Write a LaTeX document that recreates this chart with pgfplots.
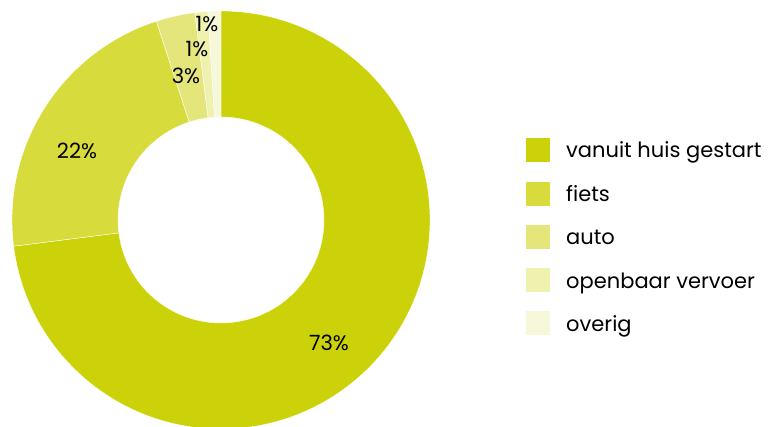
\documentclass[border=0pt]{standalone}
\usepackage{pgfplots}
\pgfplotsset{compat=1.18}
\usepackage{pgfplotstable}
\usepackage{fontspec}
\setmainfont{Poppins}

\definecolor{c0}{RGB}{204,210,10}
\definecolor{c1}{RGB}{215,220,60}
\definecolor{c2}{RGB}{228,230,123}
\definecolor{c3}{RGB}{239,241,174}
\definecolor{c4}{RGB}{247,248,218}

% share (%), label position, legend row (all in picture units)
\pgfplotstableread{
pct lx ly rowy
73 329 84 277
22 77 276 233
3 186 351 190
1 197 378 146.5
1 207 403 103.5
}\slices

\newcommand\lfont{\fontsize{21bp}{25bp}\selectfont}

\begin{document}
\begin{tikzpicture}
\begin{axis}[
    width=771bp, height=427bp,
    scale only axis,
    xmin=0, xmax=771, ymin=0, ymax=427,
    hide axis,
  ]
  \addplot[draw=none] coordinates {(0,0) (771,427)};

  \def\cum{0}
  \pgfplotsforeachungrouped \i in {0,...,4}{
    \pgfplotstablegetelem{\i}{pct}\of\slices \let\pp\pgfplotsretval
    \pgfplotstablegetelem{\i}{lx}\of\slices \let\lx\pgfplotsretval
    \pgfplotstablegetelem{\i}{ly}\of\slices \let\ly\pgfplotsretval
    \pgfplotstablegetelem{\i}{rowy}\of\slices \let\ry\pgfplotsretval
    \pgfmathsetmacro\sa{90-3.6*\cum}
    \pgfmathsetmacro\sb{\sa-3.6*\pp}
    \pgfmathsetmacro\sq{\ry-12}
    \pgfmathsetmacro\sqt{\ry+12}
    \edef\cmd{%
      \noexpand\fill[fill=c\i, draw=white, line width=0.35bp]
        ([shift={(\sa:209bp)}]axis cs:221,207)
        arc[start angle=\sa, end angle=\sb, radius=209bp]
        -- ([shift={(\sb:103bp)}]axis cs:221,207)
        arc[start angle=\sb, end angle=\sa, radius=103bp] -- cycle;
      \noexpand\node[inner sep=0pt, font=\noexpand\lfont] at (axis cs:\lx,\ly) {\pp\noexpand\%};
      \noexpand\fill[c\i] (axis cs:526,\sq) rectangle (axis cs:550,\sqt);
    }
    \cmd
    \pgfmathsetmacro\cum{\cum+\pp}
  }

  \node[anchor=base west, inner sep=0pt, font=\lfont] at (axis cs:566,269) {vanuit huis gestart};
  \node[anchor=base west, inner sep=0pt, font=\lfont] at (axis cs:566,225.5) {fiets};
  \node[anchor=base west, inner sep=0pt, font=\lfont] at (axis cs:566,182) {auto};
  \node[anchor=base west, inner sep=0pt, font=\lfont] at (axis cs:566,138.5) {openbaar vervoer};
  \node[anchor=base west, inner sep=0pt, font=\lfont] at (axis cs:566,95.5) {overig};
\end{axis}
\end{tikzpicture}
\end{document}
